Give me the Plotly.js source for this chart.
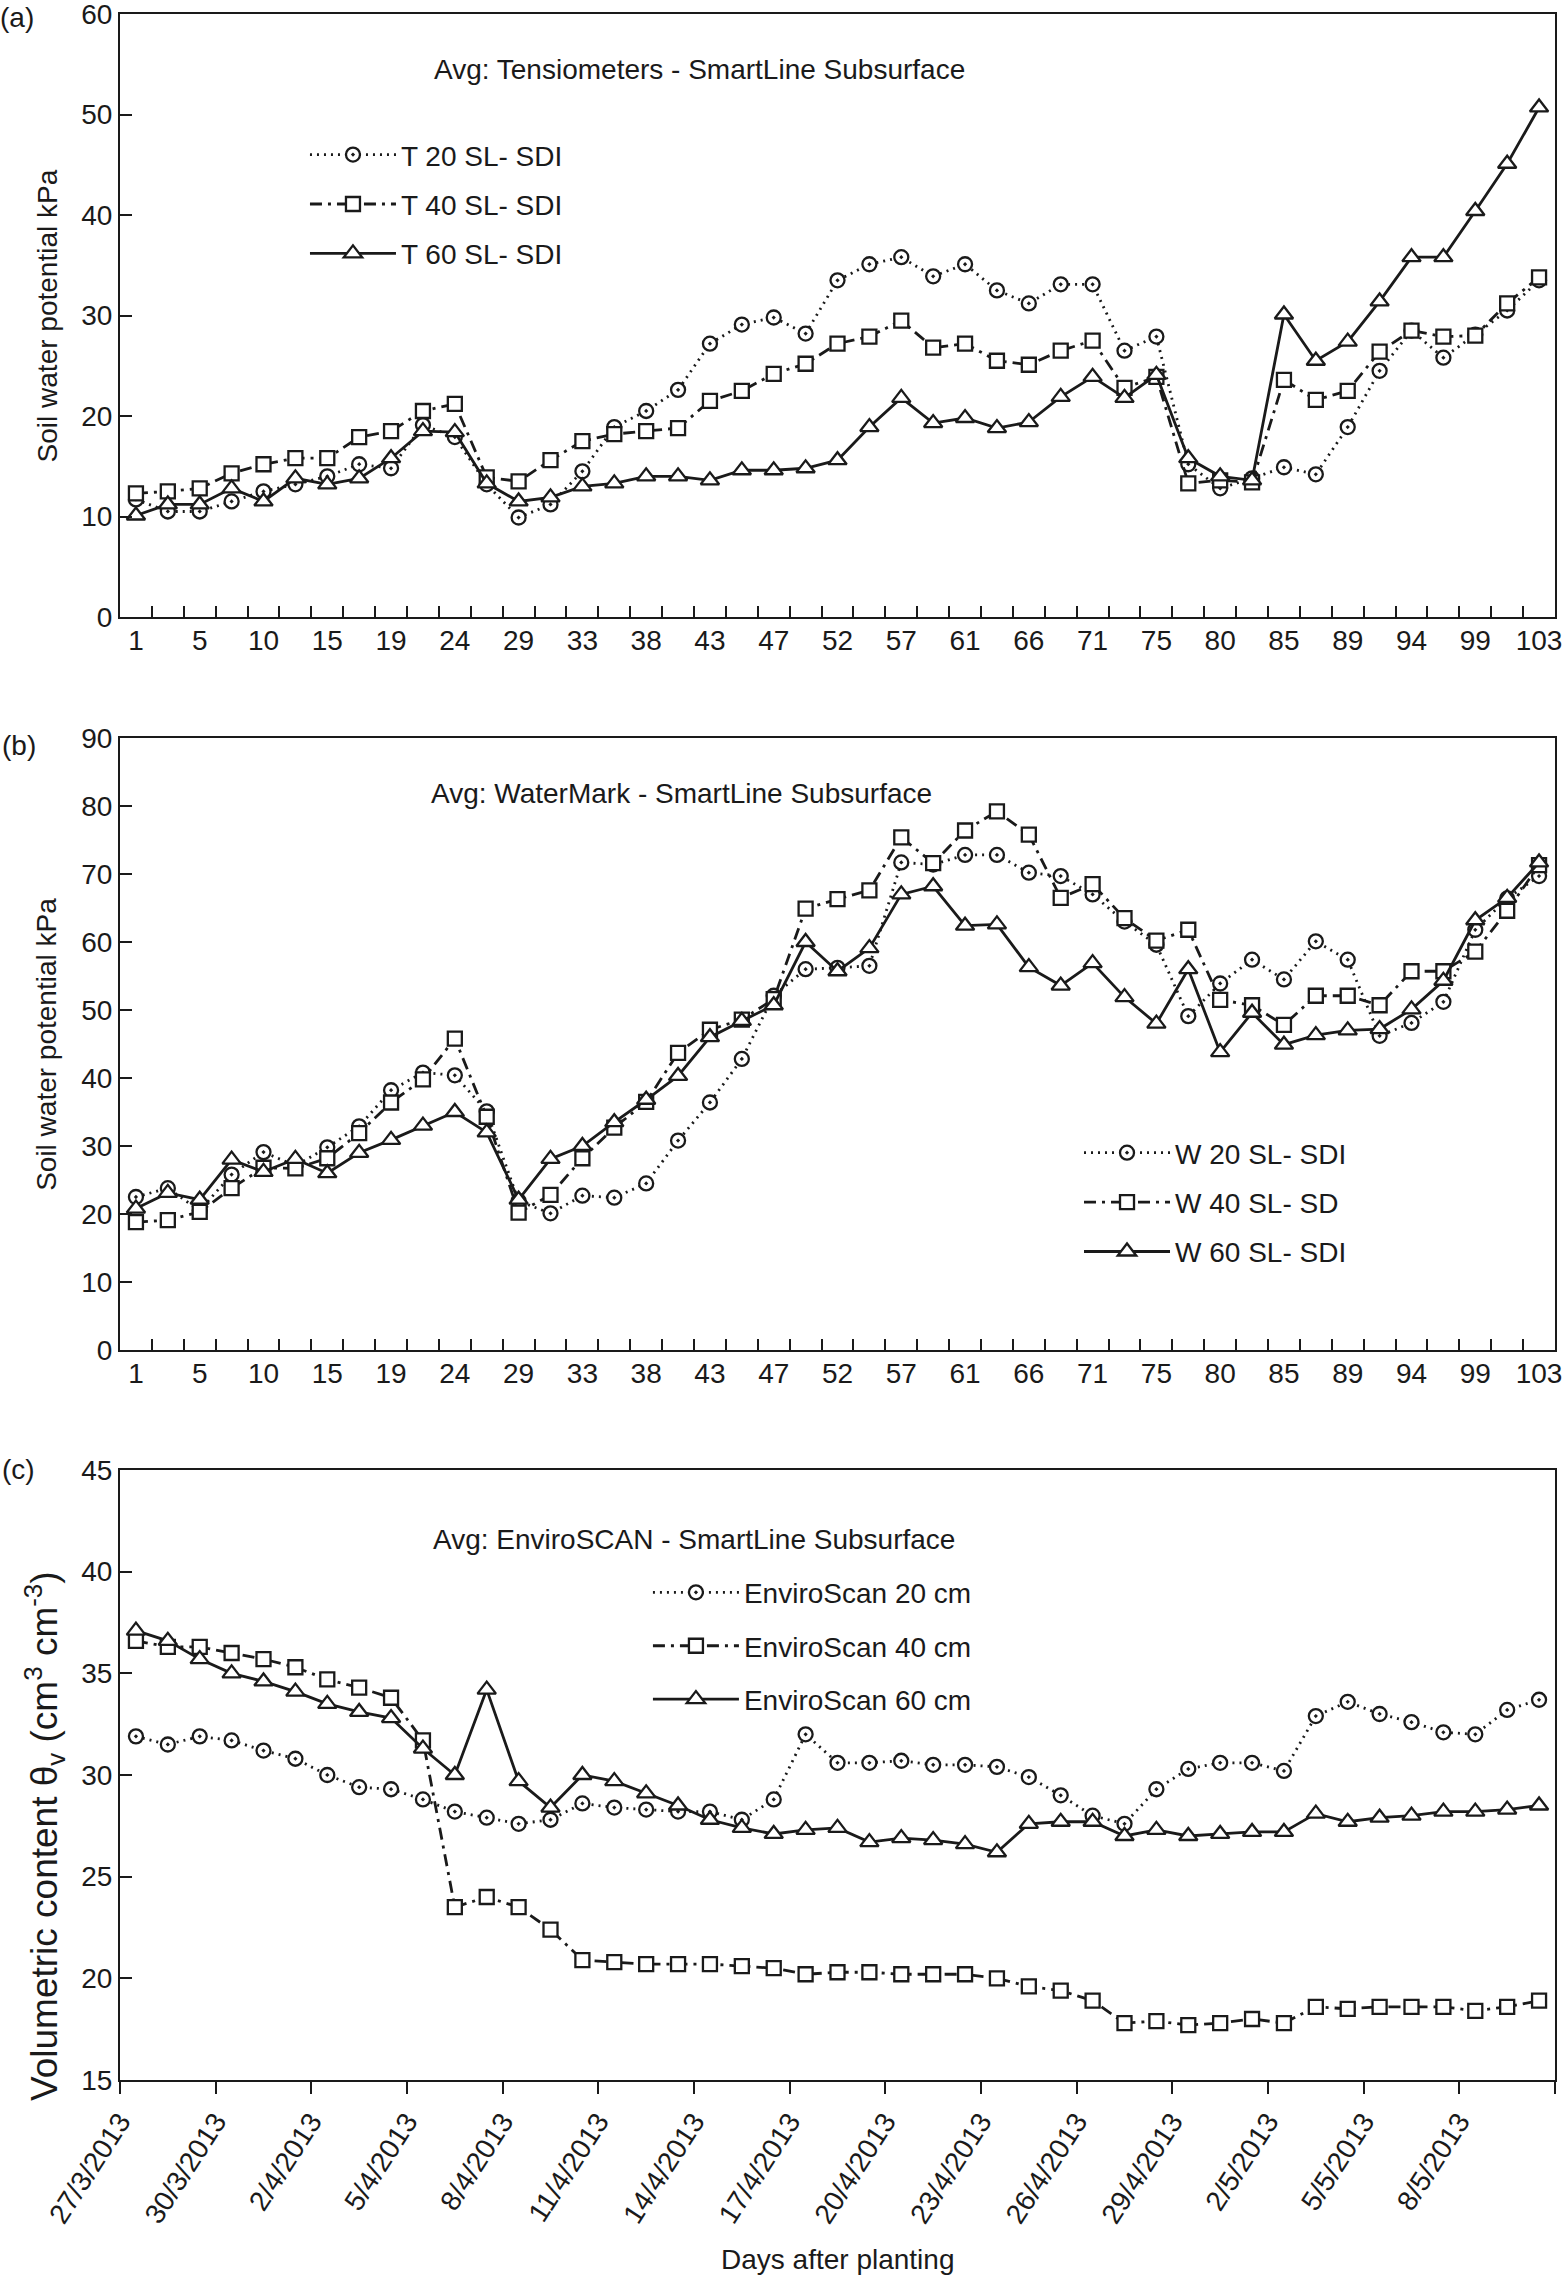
<!DOCTYPE html>
<html>
<head>
<meta charset="utf-8">
<script src="https://cdn.plot.ly/plotly-3.0.1.min.js"></script>
<style>html,body{margin:0;padding:0;background:#fff;}#chart{width:1563px;height:2281px;}</style>
</head>
<body>
<div id="chart"></div>
<script>
// ---- data ----
const days = ['1','3','5','8','10','12','15','17','19','22','24','26','29','31','33','36','38','40','43','45','47','50','52','54','57','59','61','64','66','68','71','73','75','78','80','82','85','87','89','92','94','96','99','101','103'];
const dayLabels = ['1','','5','','10','','15','','19','','24','','29','','33','','38','','43','','47','','52','','57','','61','','66','','71','','75','','80','','85','','89','','94','','99','','103'];

const T20 = [11.7,10.5,10.5,11.5,12.5,13.2,14.0,15.2,14.8,19.1,17.9,13.2,9.9,11.2,14.5,18.9,20.5,22.6,27.2,29.1,29.8,28.2,33.5,35.1,35.8,33.9,35.1,32.5,31.2,33.1,33.1,26.5,27.9,15.2,12.8,13.8,14.9,14.2,18.9,24.5,28.5,25.8,28.1,30.5,33.5];
const T40 = [12.3,12.5,12.8,14.3,15.2,15.8,15.8,17.9,18.5,20.5,21.2,13.9,13.5,15.6,17.5,18.2,18.5,18.8,21.5,22.5,24.2,25.2,27.2,27.9,29.5,26.8,27.2,25.5,25.1,26.5,27.5,22.8,23.9,13.3,13.6,13.4,23.6,21.6,22.5,26.4,28.5,27.9,28.0,31.2,33.8];
const T60 = [10.1,11.2,11.2,12.8,11.5,13.8,13.2,13.8,15.8,18.5,18.4,13.3,11.5,11.9,13.0,13.3,14.0,14.0,13.6,14.6,14.6,14.8,15.6,18.9,21.8,19.3,19.8,18.8,19.4,21.9,23.9,21.8,24.1,15.8,14.0,13.6,30.1,25.5,27.4,31.4,35.8,35.8,40.4,45.1,50.7];

const W20 = [22.5,23.8,20.5,25.8,29.1,27.1,29.8,32.9,38.2,40.8,40.4,35.1,21.9,20.1,22.7,22.4,24.5,30.8,36.4,42.8,52.1,56.0,56.2,56.5,71.7,71.4,72.8,72.8,70.2,69.7,67.0,63.0,59.6,49.1,53.9,57.4,54.5,60.1,57.4,46.2,48.1,51.2,61.8,66.4,69.7];
const W40 = [18.8,19.1,20.3,23.8,26.8,26.7,28.2,31.9,36.4,39.8,45.8,34.3,20.2,22.8,28.2,32.7,36.5,43.7,47.1,48.6,51.6,64.9,66.3,67.6,75.4,71.6,76.4,79.2,75.8,66.5,68.5,63.5,60.2,61.8,51.5,50.7,47.8,52.1,52.1,50.7,55.7,55.7,58.6,64.6,71.3];
const W60 = [20.8,23.1,22.1,28.0,26.2,28.1,26.0,29.0,30.9,33.0,35.0,32.0,22.1,28.1,30.0,33.5,36.8,40.3,46.0,48.4,50.7,60.0,55.7,59.1,67.0,68.2,62.4,62.6,56.3,53.6,56.9,51.9,48.0,56.0,43.8,49.6,44.9,46.3,47.0,47.2,50.1,54.3,63.2,66.5,71.7];

const dates = ['2013-03-27 12:00','2013-03-28 12:00','2013-03-29 12:00','2013-03-30 12:00','2013-03-31 12:00',
  '2013-04-01 12:00','2013-04-02 12:00','2013-04-03 12:00','2013-04-04 12:00','2013-04-05 12:00',
  '2013-04-06 12:00','2013-04-07 12:00','2013-04-08 12:00','2013-04-09 12:00','2013-04-10 12:00',
  '2013-04-11 12:00','2013-04-12 12:00','2013-04-13 12:00','2013-04-14 12:00','2013-04-15 12:00',
  '2013-04-16 12:00','2013-04-17 12:00','2013-04-18 12:00','2013-04-19 12:00','2013-04-20 12:00',
  '2013-04-21 12:00','2013-04-22 12:00','2013-04-23 12:00','2013-04-24 12:00','2013-04-25 12:00',
  '2013-04-26 12:00','2013-04-27 12:00','2013-04-28 12:00','2013-04-29 12:00','2013-04-30 12:00',
  '2013-05-01 12:00','2013-05-02 12:00','2013-05-03 12:00','2013-05-04 12:00','2013-05-05 12:00',
  '2013-05-06 12:00','2013-05-07 12:00','2013-05-08 12:00','2013-05-09 12:00','2013-05-10 12:00'];
const dateTicks = ['2013-03-27','2013-03-30','2013-04-02','2013-04-05','2013-04-08','2013-04-11','2013-04-14','2013-04-17','2013-04-20','2013-04-23','2013-04-26','2013-04-29','2013-05-02','2013-05-05','2013-05-08','2013-05-11'];
const dateLabels = ['27/3/2013','30/3/2013','2/4/2013','5/4/2013','8/4/2013','11/4/2013','14/4/2013','17/4/2013','20/4/2013','23/4/2013','26/4/2013','29/4/2013','2/5/2013','5/5/2013','8/5/2013',''];

const E20 = [31.9,31.5,31.9,31.7,31.2,30.8,30.0,29.4,29.3,28.8,28.2,27.9,27.6,27.8,28.6,28.4,28.3,28.2,28.2,27.8,28.8,32.0,30.6,30.6,30.7,30.5,30.5,30.4,29.9,29.0,28.0,27.6,29.3,30.3,30.6,30.6,30.2,32.9,33.6,33.0,32.6,32.1,32.0,33.2,33.7];
const E40 = [36.6,36.3,36.3,36.0,35.7,35.3,34.7,34.3,33.8,31.7,23.5,24.0,23.5,22.4,20.9,20.8,20.7,20.7,20.7,20.6,20.5,20.2,20.3,20.3,20.2,20.2,20.2,20.0,19.6,19.4,18.9,17.8,17.9,17.7,17.8,18.0,17.8,18.6,18.5,18.6,18.6,18.6,18.4,18.6,18.9];
const E60 = [37.1,36.6,35.7,35.0,34.6,34.1,33.5,33.1,32.8,31.3,30.0,34.2,29.7,28.4,30.0,29.7,29.1,28.5,27.8,27.4,27.1,27.3,27.4,26.7,26.9,26.8,26.6,26.2,27.6,27.7,27.7,27.0,27.3,27.0,27.1,27.2,27.2,28.1,27.7,27.9,28.0,28.2,28.2,28.3,28.5];

// ---- styles ----
const INK = '#1a1a1a';
const FONT = 'Liberation Sans, Arial, Helvetica, sans-serif';
const styles = {
  s20: {dash: '2px,5px', symbol: 'circle-dot', size: 14},
  s40: {dash: '12px,6px,3px,6px', symbol: 'square', size: 14},
  s60: {dash: 'solid', symbol: 'triangle-up', size: 16}
};

function mk(x, y, name, st, xa, ya, leg) {
  return {
    type: 'scatter', mode: 'lines+markers', x: x, y: y, name: name,
    xaxis: xa, yaxis: ya, legend: leg, legendgroup: leg + name,
    line: {color: INK, width: 2.8, dash: st.dash},
    marker: {symbol: st.symbol, size: st.size, color: '#ffffff', line: {color: INK, width: 2.3}},
    cliponaxis: false
  };
}

const traces = [
  mk(days, T20, 'T 20 SL- SDI', styles.s20, 'x', 'y', 'legend'),
  mk(days, T40, 'T 40 SL- SDI', styles.s40, 'x', 'y', 'legend'),
  mk(days, T60, 'T 60 SL- SDI', styles.s60, 'x', 'y', 'legend'),
  mk(days, W20, 'W 20 SL- SDI', styles.s20, 'x2', 'y2', 'legend2'),
  mk(days, W40, 'W 40 SL- SD', styles.s40, 'x2', 'y2', 'legend2'),
  mk(days, W60, 'W 60 SL- SDI', styles.s60, 'x2', 'y2', 'legend2'),
  mk(dates, E20, 'EnviroScan 20 cm', styles.s20, 'x3', 'y3', 'legend3'),
  mk(dates, E40, 'EnviroScan 40 cm', styles.s40, 'x3', 'y3', 'legend3'),
  mk(dates, E60, 'EnviroScan 60 cm', styles.s60, 'x3', 'y3', 'legend3')
];

const tickFont = {family: FONT, size: 28, color: INK};
const baseAxis = {
  showline: true, linecolor: INK, linewidth: 2, mirror: true,
  showgrid: false, zeroline: false, tickcolor: INK, tickwidth: 2,
  tickfont: tickFont, fixedrange: true, ticklabeloverflow: 'allow'
};
const catX = (anchor) => Object.assign({}, baseAxis, {
  anchor: anchor, domain: [0, 1], type: 'category',
  tickmode: 'array', tickvals: days, ticktext: dayLabels,
  tickson: 'boundaries', ticks: 'inside', ticklen: 11, tickangle: 0,
  ticklabelstandoff: -3,
  range: [-0.5, 44.5]
});

const legendBase = {
  font: {family: FONT, size: 28, color: INK}, bgcolor: 'rgba(0,0,0,0)', borderwidth: 0,
  xanchor: 'left', yanchor: 'top', itemwidth: 86, tracegroupgap: 10, itemclick: false, itemdoubleclick: false
};

const annFont = {family: FONT, size: 28, color: INK};
const layout = {
  width: 1563, height: 2281,
  margin: {l: 120, r: 8, t: 14, b: 201},
  paper_bgcolor: '#ffffff', plot_bgcolor: '#ffffff',
  font: {family: FONT, size: 28, color: INK},
  showlegend: true,
  xaxis: catX('y'),
  xaxis2: catX('y2'),
  xaxis3: Object.assign({}, baseAxis, {
    anchor: 'y3', domain: [0, 1], type: 'date',
    range: ['2013-03-27', '2013-05-11'],
    tickmode: 'array', tickvals: dateTicks, ticktext: dateLabels,
    ticks: 'outside', ticklen: 12, tickangle: -57
  }),
  yaxis: Object.assign({}, baseAxis, {
    anchor: 'x', domain: [0.70813, 1], range: [0, 60], dtick: 10, tick0: 0,
    ticks: 'inside', ticklen: 12
  }),
  yaxis2: Object.assign({}, baseAxis, {
    anchor: 'x2', domain: [0.35334, 0.64956], range: [0, 90], dtick: 10, tick0: 0,
    ticks: 'inside', ticklen: 12
  }),
  yaxis3: Object.assign({}, baseAxis, {
    anchor: 'x3', domain: [0, 0.29526], range: [15, 45], dtick: 5, tick0: 15,
    ticks: 'inside', ticklen: 12
  }),
  legend: Object.assign({}, legendBase, {x: 0.1289, y: 0.9439}),
  legend2: Object.assign({}, legendBase, {x: 0.6683, y: 0.4608}),
  legend3: Object.assign({}, legendBase, {x: 0.3679, y: 0.2480, tracegroupgap: 14}),
  annotations: [
    {text: '(a)', xref: 'paper', yref: 'paper', x: -0.0718, y: 0.9985, xanchor: 'center', yanchor: 'middle', showarrow: false, font: annFont},
    {text: '(b)', xref: 'paper', yref: 'paper', x: -0.0704, y: 0.6457, xanchor: 'center', yanchor: 'middle', showarrow: false, font: annFont},
    {text: '(c)', xref: 'paper', yref: 'paper', x: -0.0704, y: 0.2953, xanchor: 'center', yanchor: 'middle', showarrow: false, font: annFont},
    {text: 'Avg: Tensiometers - SmartLine Subsurface', xref: 'paper', yref: 'paper', x: 0.2174, y: 0.9729, xanchor: 'left', yanchor: 'middle', showarrow: false, font: annFont},
    {text: 'Avg: WaterMark - SmartLine Subsurface', xref: 'paper', yref: 'paper', x: 0.2153, y: 0.6229, xanchor: 'left', yanchor: 'middle', showarrow: false, font: annFont},
    {text: 'Avg: EnviroSCAN - SmartLine Subsurface', xref: 'paper', yref: 'paper', x: 0.2167, y: 0.2614, xanchor: 'left', yanchor: 'middle', showarrow: false, font: annFont},
    {text: 'Soil water potential kPa', xref: 'paper', yref: 'paper', x: -0.0509, y: 0.8541, xanchor: 'center', yanchor: 'middle', textangle: -90, showarrow: false, font: annFont},
    {text: 'Soil water potential kPa', xref: 'paper', yref: 'paper', x: -0.0509, y: 0.5015, xanchor: 'center', yanchor: 'middle', textangle: -90, showarrow: false, font: annFont},
    {text: 'Volumetric content θ<sub>v</sub> (cm<sup>3</sup> cm<sup>-3</sup>)', xref: 'paper', yref: 'paper', x: -0.0530, y: 0.1181, xanchor: 'center', yanchor: 'middle', textangle: -90, showarrow: false, font: {family: FONT, size: 37, color: INK}},
    {text: 'Days after planting', xref: 'paper', yref: 'paper', x: 0.5, y: -0.0871, xanchor: 'center', yanchor: 'middle', showarrow: false, font: annFont}
  ]
};

Plotly.newPlot('chart', traces, layout, {staticPlot: true, displayModeBar: false});
</script>
</body>
</html>
